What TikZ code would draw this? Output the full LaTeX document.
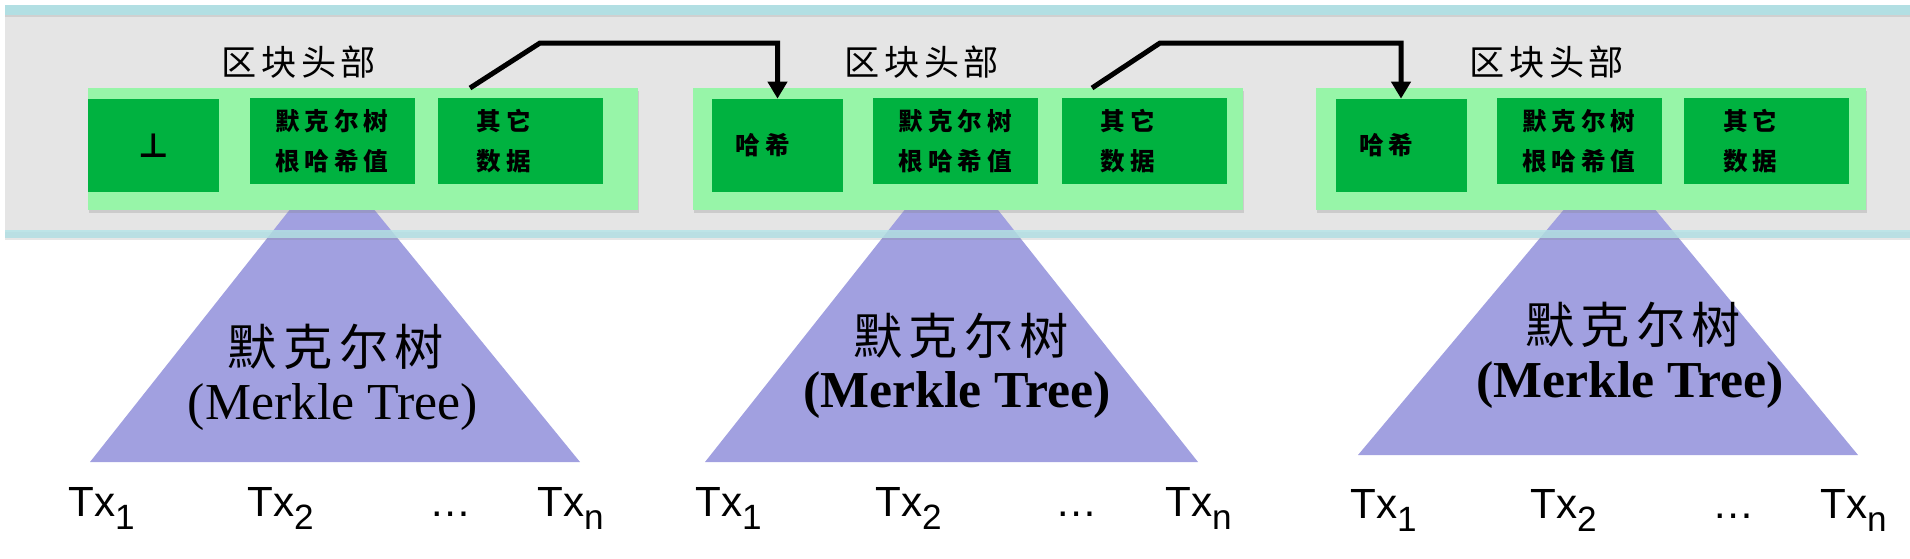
\documentclass[tikz,border=0pt]{standalone}
\usepackage{fontspec}
\setmainfont{Liberation Serif}
\setsansfont{Liberation Sans}
\newfontfamily\cjk[LetterSpace=13]{Noto Sans CJK SC}
\newfontfamily\cjkwide[LetterSpace=20]{Noto Sans CJK SC}
\newfontfamily\symfont{DejaVu Sans}
\usetikzlibrary{positioning,arrows.meta,shadows}

\definecolor{bandgray}{HTML}{E5E5E5}
\definecolor{bandteal}{HTML}{B2DFE3}
\definecolor{headgreen}{HTML}{97F5A8}
\definecolor{cellgreen}{HTML}{00B240}
\definecolor{treeblue}{HTML}{A1A0E0}

\newcommand{\txsub}[1]{Tx\raisebox{-0.26cm}{\fontsize{20}{20}\selectfont #1}}

\begin{document}
\begin{tikzpicture}[
    header/.style={fill=headgreen, minimum width=11cm, minimum height=2.44cm, inner sep=0pt,
        drop shadow={shadow xshift=0.02cm, shadow yshift=-0.05cm, opacity=0.25}},
    tallcell/.style={fill=cellgreen, minimum width=2.62cm, minimum height=1.86cm, inner sep=0pt,
        font=\cjkwide\bfseries\fontsize{14}{23}\selectfont},
    cell/.style={fill=cellgreen, minimum width=3.30cm, minimum height=1.72cm, inner sep=0pt,
        align=center, font=\cjkwide\bfseries\fontsize{14}{23}\selectfont},
    headlabel/.style={font=\cjk\fontsize{20}{22}\selectfont},
    tree/.style={fill=treeblue},
    treename/.style={font=\cjk\fontsize{28}{30}\selectfont},
    treeen/.style={font=\fontsize{29.5}{31}\selectfont},
    tx/.style={anchor=base west, inner sep=0pt, font=\sffamily\fontsize{24}{28}\selectfont},
    link/.style={-{Triangle[length=0.34cm, width=0.38cm]}, line width=0.1cm}
]

\useasboundingbox (0,0) rectangle (38.2,11.16);

% chain band
\fill[bandgray] (0.10,6.56) rectangle (38.2,10.86);
\fill[bandteal, drop shadow={shadow xshift=0cm, shadow yshift=-0.04cm, opacity=0.2}]
    (0.10,10.86) rectangle (38.2,11.06);

% merkle trees
\fill[tree] (1.80,1.92) -- (5.79,6.96) -- (7.49,6.96) -- (11.60,1.92) -- cycle;
\fill[tree] (14.10,1.92) -- (18.09,6.96) -- (19.96,6.96) -- (23.96,1.92) -- cycle;
\fill[tree] (27.16,2.06) -- (31.27,6.96) -- (33.11,6.96) -- (37.16,2.06) -- cycle;

\fill[bandteal, opacity=0.85, drop shadow={shadow xshift=0cm, shadow yshift=-0.04cm, opacity=0.2}]
    (0.10,6.40) rectangle (38.2,6.56);

% block 1
\node[header] (blk1) at (7.26,8.18) {};
\node[tallcell, font=\symfont\bfseries\fontsize{19}{19}\selectfont] (nil1) at (3.07,8.25) {\raisebox{-0.08cm}{⊥}};
\node[cell] (root1) at (6.64,8.34) {默克尔树\\根哈希值};
\node[cell] (misc1) at (10.40,8.34) {其它\hspace*{0.64cm}\\数据\hspace*{0.64cm}};
\node[headlabel] (hd1) at (5.98,9.92) {区块头部};

% block 2
\node[header] (blk2) at (19.35,8.18) {};
\node[tallcell] (hash2) at (15.55,8.25) {哈希\hspace*{0.58cm}};
\node[cell] (root2) at (19.11,8.34) {默克尔树\\根哈希值};
\node[cell] (misc2) at (22.88,8.34) {其它\hspace*{0.64cm}\\数据\hspace*{0.64cm}};
\node[headlabel] (hd2) at (18.44,9.92) {区块头部};

% block 3
\node[header] (blk3) at (31.82,8.18) {};
\node[tallcell] (hash3) at (28.02,8.25) {哈希\hspace*{0.58cm}};
\node[cell] (root3) at (31.58,8.34) {默克尔树\\根哈希值};
\node[cell] (misc3) at (35.33,8.34) {其它\hspace*{0.64cm}\\数据\hspace*{0.64cm}};
\node[headlabel] (hd3) at (30.94,9.92) {区块头部};

% hash pointers
\coordinate (out1) at (9.40,9.40);
\coordinate (out2) at (21.84,9.40);
\draw[link] (out1) -- ++(1.40,0.90) -| (hash2);
\draw[link] (out2) -- ++(1.36,0.90) -| (hash3);

% tree labels
\node[treename] (tname1) at (6.72,4.22) {默克尔树};
\node[treeen] (ten1) at (6.66,3.02) {(Merkle Tree)};
\node[treename] (tname2) at (19.22,4.44) {默克尔树};
\node[treeen, font=\bfseries\fontsize{29.5}{31}\selectfont] (ten2) at (19.14,3.26) {(Merkle Tree)};
\node[treename] (tname3) at (32.66,4.66) {默克尔树};
\node[treeen, font=\bfseries\fontsize{29.5}{31}\selectfont] (ten3) at (32.60,3.46) {(Merkle Tree)};

% transactions
\node[tx] (t1a) at (1.36,0.84) {\txsub{1}};
\node[tx] (t1b) at (4.94,0.84) {\txsub{2}};
\node[tx] (t1c) at (8.58,0.84) {\ldots};
\node[tx] (t1n) at (10.74,0.84) {\txsub{n}};
\node[tx] (t2a) at (13.90,0.84) {\txsub{1}};
\node[tx] (t2b) at (17.50,0.84) {\txsub{2}};
\node[tx] (t2c) at (21.10,0.84) {\ldots};
\node[tx] (t2n) at (23.30,0.84) {\txsub{n}};
\node[tx] (t3a) at (27.00,0.80) {\txsub{1}};
\node[tx] (t3b) at (30.60,0.80) {\txsub{2}};
\node[tx] (t3c) at (34.24,0.80) {\ldots};
\node[tx] (t3n) at (36.40,0.80) {\txsub{n}};

\end{tikzpicture}
\end{document}
